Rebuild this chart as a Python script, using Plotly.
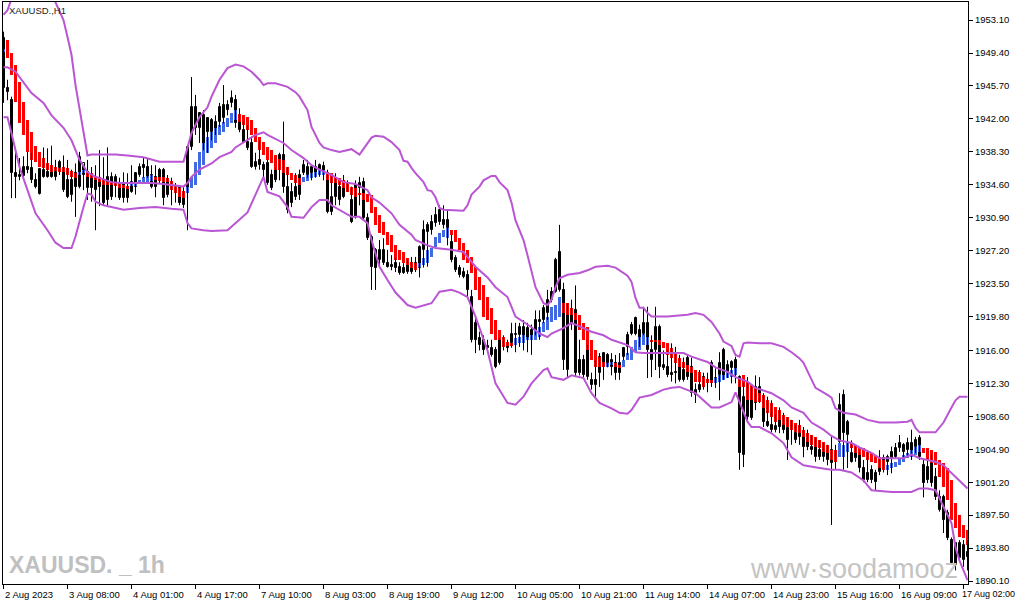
import plotly.graph_objects as go

# ---------------- regular candles (XAUUSD H1) ----------------
open_ = [
 1951.1,1945.5,1944.1,1935.9,1935.5,1935.6,1936.6,1936.5,1935.1,1933.6,
 1936.3,1936.0,1936.6,1936.0,1936.5,1936.5,1935.1,1935.1,1935.9,1934.4,
 1935.7,1936.0,1935.4,1935.1,1935.1,1934.8,1935.5,1935.5,1934.8,1934.8,
 1934.8,1934.4,1933.8,1934.4,1935.7,1936.8,1936.6,1935.7,1935.5,1935.1,
 1936.3,1935.1,1934.8,1933.7,1934.2,1933.7,1933.7,1938.8,1943.3,1941.0,
 1942.4,1942.1,1940.5,1941.7,1941.7,1942.1,1943.6,1943.8,1944.1,1942.4,
 1940.8,1939.4,1939.3,1936.6,1937.4,1936.8,1937.0,1935.7,1936.3,1936.8,
 1937.9,1934.4,1933.8,1934.4,1933.5,1935.9,1936.6,1935.9,1936.6,1936.0,
 1936.7,1935.1,1931.5,1934.9,1934.4,1934.6,1934.6,1932.9,1934.6,1934.2,
 1934.9,1930.9,1928.7,1927.3,1926.2,1925.8,1925.8,1925.6,1925.8,1925.4,
 1925.3,1925.6,1925.3,1925.8,1925.3,1927.3,1929.3,1930.4,1930.3,1930.4,
 1930.6,1930.6,1928.2,1926.4,1925.3,1924.2,1924.5,1922.0,1919.1,1917.4,
 1917.2,1916.5,1916.3,1916.0,1914.6,1917.2,1916.5,1916.8,1917.7,1917.7,
 1917.2,1918.5,1918.3,1917.9,1919.2,1919.4,1920.2,1922.6,1922.6,1927.1,
 1922.8,1913.8,1920.5,1920.5,1914.9,1914.9,1913.0,1912.7,1912.7,1913.5,
 1914.6,1915.5,1914.1,1914.6,1914.6,1915.3,1916.4,1917.9,1919.6,1917.4,
 1917.9,1919.1,1916.0,1916.0,1918.6,1914.0,1914.1,1913.5,1913.6,1914.1,
 1913.8,1915.2,1914.1,1911.0,1912.1,1913.0,1912.7,1912.3,1912.5,1913.2,
 1916.0,1913.6,1914.0,1913.6,1913.0,1904.3,1912.1,1910.4,1911.9,1910.4,
 1910.2,1908.0,1907.6,1907.1,1908.2,1907.6,1907.3,1907.9,1906.7,1907.1,
 1906.8,1905.9,1905.2,1905.2,1904.8,1904.0,1904.5,1904.8,1904.3,1905.7,
 1911.0,1906.5,1903.5,1904.8,1904.3,1902.8,1902.2,1902.6,1902.2,1902.3,
 1903.9,1903.5,1903.9,1904.0,1905.0,1905.4,1904.8,1905.6,1905.2,1906.2,
 1903.1,1902.9,1903.7,1901.8,1899.5,1899.5,1897.7,1894.7,1891.9,1892.7,
 1892.5,1893.4]
high = [
 1951.8,1946.4,1944.5,1938.3,1937.6,1937.8,1938.3,1938.2,1935.9,1936.5,
 1938.8,1938.7,1939.0,1937.4,1937.4,1937.9,1937.4,1936.3,1937.0,1938.3,
 1936.8,1937.4,1936.6,1936.8,1938.5,1937.7,1938.8,1936.0,1935.8,1935.4,
 1936.0,1935.9,1936.8,1936.0,1937.0,1937.7,1937.6,1936.8,1936.8,1936.5,
 1936.5,1935.7,1935.4,1934.8,1934.4,1934.4,1938.9,1946.7,1944.7,1942.7,
 1943.0,1942.2,1942.1,1942.4,1943.8,1945.8,1944.1,1945.2,1944.7,1943.2,
 1941.7,1941.3,1940.0,1938.2,1939.6,1937.2,1937.4,1936.3,1936.5,1938.2,
 1941.7,1936.6,1934.8,1935.9,1936.3,1937.4,1937.4,1936.8,1937.4,1937.0,
 1937.2,1936.3,1935.5,1935.9,1934.9,1935.7,1935.1,1934.4,1935.1,1935.5,
 1935.4,1931.4,1929.0,1927.5,1928.4,1928.6,1927.3,1926.7,1926.4,1925.9,
 1925.8,1926.2,1926.5,1926.5,1927.8,1930.6,1930.4,1931.2,1932.1,1932.3,
 1932.3,1931.8,1929.0,1926.7,1925.6,1925.3,1925.0,1922.8,1919.8,1918.1,
 1917.7,1917.2,1917.2,1916.4,1917.4,1917.7,1917.2,1919.1,1919.1,1919.1,
 1919.4,1919.1,1918.9,1920.5,1920.5,1921.1,1922.8,1923.1,1926.4,1930.1,
 1923.6,1921.3,1921.7,1923.3,1917.2,1915.5,1916.6,1913.5,1914.9,1915.7,
 1915.8,1915.7,1915.7,1915.5,1915.7,1916.4,1918.1,1919.2,1919.8,1918.9,
 1920.9,1920.9,1917.7,1920.9,1918.9,1916.0,1916.0,1916.8,1916.4,1915.5,
 1915.2,1915.5,1915.2,1912.3,1913.8,1913.5,1913.5,1914.9,1914.0,1915.8,
 1916.3,1914.9,1914.9,1915.3,1913.2,1912.3,1913.0,1912.1,1913.2,1913.0,
 1911.2,1910.8,1910.4,1908.8,1909.6,1909.0,1908.5,1908.2,1907.6,1908.2,
 1907.4,1907.1,1906.5,1906.2,1905.9,1905.6,1905.4,1906.3,1905.4,1911.2,
 1911.6,1908.2,1905.9,1905.4,1904.6,1903.7,1904.6,1903.1,1902.6,1904.8,
 1904.3,1904.3,1905.2,1905.6,1906.5,1905.6,1906.2,1907.1,1906.3,1906.5,
 1903.7,1903.9,1904.3,1902.8,1900.3,1899.8,1898.1,1895.0,1894.4,1894.7,
 1894.7,1894.7]
low = [
 1943.8,1944.1,1933.1,1933.1,1935.1,1935.4,1935.9,1934.8,1934.2,1933.5,
 1935.4,1935.4,1935.4,1935.1,1935.7,1933.8,1933.1,1932.7,1931.0,1934.2,
 1934.0,1932.9,1932.7,1929.5,1932.2,1932.3,1932.1,1932.9,1933.2,1932.9,
 1932.6,1932.6,1933.7,1933.5,1935.5,1935.4,1935.4,1934.2,1933.2,1934.8,
 1932.3,1933.2,1932.3,1932.6,1932.3,1932.0,1929.5,1938.5,1940.2,1939.3,
 1938.5,1938.2,1939.6,1940.2,1941.1,1941.5,1942.4,1943.3,1941.0,1940.5,
 1939.3,1938.5,1936.5,1936.3,1936.3,1935.4,1934.6,1934.0,1934.9,1935.1,
 1933.7,1931.4,1932.1,1932.9,1932.9,1935.7,1935.4,1935.1,1935.4,1935.5,
 1935.1,1931.4,1931.2,1932.3,1932.3,1933.1,1933.8,1930.3,1930.8,1932.3,
 1930.6,1928.4,1922.8,1922.8,1925.6,1925.6,1925.3,1925.0,1924.8,1924.5,
 1924.6,1924.6,1924.6,1924.8,1924.2,1925.3,1925.4,1929.0,1929.9,1930.1,
 1929.7,1927.8,1925.9,1924.8,1924.2,1924.1,1922.0,1916.9,1915.7,1916.0,
 1915.5,1915.8,1915.3,1914.0,1914.4,1916.0,1915.8,1916.3,1915.8,1916.4,
 1916.0,1915.8,1915.5,1917.7,1917.2,1919.1,1919.4,1921.4,1922.5,1922.6,
 1913.8,1913.0,1918.3,1913.0,1913.2,1912.9,1912.7,1911.6,1910.8,1911.9,
 1912.7,1914.1,1913.2,1912.7,1912.7,1914.9,1915.5,1917.7,1917.7,1916.4,
 1917.7,1912.9,1913.0,1913.8,1912.9,1913.8,1913.0,1912.5,1912.3,1912.5,
 1912.5,1912.7,1910.8,1910.1,1911.3,1911.6,1911.3,1911.9,1911.8,1910.4,
 1912.7,1912.9,1912.3,1912.3,1902.6,1902.9,1908.2,1908.2,1909.3,1910.1,
 1907.4,1907.4,1906.8,1906.8,1906.7,1906.7,1903.7,1905.4,1905.6,1905.4,
 1904.0,1904.8,1904.3,1903.5,1903.7,1903.5,1903.1,1896.4,1902.6,1905.6,
 1902.6,1902.8,1903.4,1903.5,1902.3,1901.2,1901.2,1901.1,1900.3,1902.0,
 1902.3,1902.0,1902.2,1903.9,1904.6,1904.0,1904.0,1903.7,1904.5,1903.7,
 1899.5,1901.1,1900.7,1899.2,1897.9,1895.5,1894.7,1891.9,1891.3,1892.5,
 1891.7,1891.3]
close = [
 1945.5,1945.0,1935.9,1935.5,1935.7,1936.6,1936.3,1935.1,1934.4,1936.4,
 1935.5,1935.5,1935.5,1935.5,1937.2,1934.0,1933.2,1933.5,1934.4,1937.7,
 1937.0,1934.2,1934.2,1934.0,1934.4,1932.6,1932.9,1933.2,1935.5,1933.1,
 1933.1,1933.1,1934.9,1935.9,1936.6,1936.5,1935.5,1934.4,1934.4,1936.3,
 1933.1,1933.5,1934.0,1934.4,1932.6,1932.3,1938.8,1943.3,1941.0,1942.7,
 1939.1,1940.5,1941.9,1940.8,1943.3,1943.6,1943.0,1944.3,1941.5,1940.8,
 1939.4,1938.7,1936.6,1937.2,1936.8,1936.3,1934.8,1934.2,1935.1,1937.9,
 1934.4,1931.8,1932.6,1933.2,1935.7,1936.8,1935.7,1936.6,1935.9,1936.8,
 1935.7,1931.5,1933.2,1933.2,1932.9,1933.2,1934.0,1930.4,1931.0,1934.8,
 1930.9,1928.6,1925.4,1925.3,1927.3,1927.3,1925.4,1925.4,1925.3,1924.7,
 1924.7,1924.8,1924.8,1925.0,1927.6,1929.5,1930.1,1929.5,1931.2,1931.8,
 1930.1,1929.7,1926.2,1925.0,1924.5,1924.8,1922.8,1917.2,1917.2,1916.6,
 1916.0,1916.3,1915.5,1914.1,1917.2,1916.4,1916.3,1917.9,1917.9,1918.6,
 1918.6,1917.2,1917.2,1919.4,1919.4,1920.8,1921.7,1921.7,1926.2,1922.8,
 1914.9,1920.5,1919.1,1913.5,1913.5,1913.2,1916.0,1912.1,1912.1,1915.3,
 1915.7,1914.6,1914.9,1913.5,1913.5,1916.3,1917.7,1918.9,1917.9,1918.3,
 1919.1,1916.0,1914.9,1918.6,1914.1,1914.4,1913.2,1913.2,1913.5,1912.7,
 1912.7,1913.0,1911.2,1911.6,1911.6,1911.9,1912.6,1914.6,1912.9,1914.6,
 1913.0,1914.4,1914.7,1914.9,1904.5,1910.8,1908.5,1908.4,1910.1,1911.9,
 1908.0,1907.5,1907.1,1907.5,1907.4,1907.1,1905.9,1907.3,1905.9,1906.3,
 1905.2,1905.2,1904.8,1904.0,1904.0,1904.6,1903.7,1903.4,1903.5,1909.9,
 1906.7,1908.0,1904.5,1903.9,1902.8,1901.4,1901.4,1901.4,1901.2,1903.5,
 1902.6,1904.0,1904.6,1905.0,1905.6,1904.6,1905.6,1904.6,1905.9,1904.0,
 1901.1,1901.4,1901.1,1899.5,1898.1,1897.0,1894.9,1892.1,1894.4,1894.4,
 1894.2,1892.8]

# ---------------- Heiken Ashi (smoothed) bodies ----------------
ha_open = [
 1949.5,1950.9,1949.4,1948.1,1946.1,1943.9,1941.9,1940.5,1939.0,1938.3,
 1937.6,1937.0,1936.8,1936.6,1936.5,1936.6,1936.5,1936.2,1935.9,1935.7,
 1935.9,1936.0,1935.9,1935.6,1935.5,1935.1,1934.9,1934.9,1934.8,1934.7,
 1934.6,1934.5,1934.5,1934.5,1934.7,1934.8,1934.9,1935.0,1935.5,1935.5,
 1935.5,1935.4,1935.0,1934.6,1934.2,1933.9,1933.7,1934.2,1934.6,1935.7,
 1936.8,1938.2,1938.7,1939.3,1940.2,1940.5,1941.1,1941.5,1941.9,1942.5,
 1942.4,1942.2,1941.9,1941.0,1940.0,1939.4,1938.8,1938.5,1937.9,1937.5,
 1937.4,1936.6,1935.9,1935.7,1935.4,1934.9,1935.0,1935.4,1935.5,1935.7,
 1935.7,1936.0,1935.9,1935.5,1935.4,1935.1,1934.9,1934.4,1934.2,1933.7,
 1933.7,1933.6,1933.5,1932.1,1931.2,1930.4,1929.3,1929.0,1927.8,1927.3,
 1927.0,1926.4,1925.9,1925.8,1925.4,1925.6,1925.8,1926.5,1927.6,1928.1,
 1928.7,1928.6,1929.5,1929.5,1928.6,1928.1,1927.3,1926.5,1925.4,1924.2,
 1923.3,1922.0,1920.8,1919.4,1918.3,1917.5,1916.9,1916.8,1916.6,1916.8,
 1916.8,1917.2,1917.2,1917.2,1917.5,1918.1,1918.3,1919.2,1919.4,1919.8,
 1921.3,1921.3,1920.8,1920.2,1920.0,1919.1,1918.6,1917.2,1916.0,1915.3,
 1914.7,1914.1,1914.4,1914.6,1914.4,1914.1,1914.9,1914.9,1915.8,1916.0,
 1916.6,1916.6,1917.2,1917.2,1917.2,1916.9,1916.8,1916.3,1915.7,1915.1,
 1914.7,1914.4,1914.1,1913.8,1913.6,1913.0,1912.8,1912.7,1912.3,1912.5,
 1912.7,1912.9,1913.0,1913.2,1912.9,1913.2,1912.5,1912.1,1911.8,1911.2,
 1911.0,1910.4,1910.1,1909.6,1909.3,1908.8,1908.5,1908.2,1907.9,1907.6,
 1907.1,1906.7,1906.5,1906.3,1905.9,1905.7,1905.4,1904.8,1904.8,1904.0,
 1904.0,1904.6,1905.6,1905.4,1905.2,1905.0,1904.6,1904.5,1904.3,1904.0,
 1903.7,1902.6,1902.8,1902.9,1903.1,1903.5,1903.9,1904.0,1904.3,1904.6,
 1905.0,1905.0,1904.8,1904.6,1903.7,1903.4,1902.8,1901.4,1898.9,1897.5,
 1896.4,1895.8]
ha_close = [
 1949.9,1948.8,1946.9,1943.9,1941.5,1940.2,1938.3,1937.4,1937.2,1936.6,
 1936.5,1936.3,1936.0,1936.2,1936.0,1936.0,1935.7,1935.5,1935.4,1936.0,
 1936.3,1935.5,1935.4,1935.1,1934.9,1934.6,1934.6,1934.6,1934.5,1934.2,
 1934.2,1934.1,1934.8,1934.9,1935.1,1935.5,1935.6,1935.7,1935.1,1935.0,
 1934.9,1934.9,1934.0,1933.7,1933.2,1933.1,1934.4,1935.5,1937.2,1938.3,
 1939.3,1940.0,1940.5,1941.0,1941.3,1941.7,1942.1,1942.7,1943.0,1941.7,
 1941.3,1940.8,1940.2,1939.4,1938.5,1937.9,1937.4,1937.0,1936.3,1936.3,
 1935.9,1935.7,1935.1,1934.8,1934.6,1935.5,1935.7,1935.9,1936.0,1936.3,
 1936.3,1935.1,1934.8,1934.8,1934.6,1934.2,1933.8,1933.5,1933.2,1933.5,
 1932.9,1932.7,1931.4,1930.1,1929.2,1929.0,1927.8,1927.1,1926.2,1926.2,
 1925.8,1925.6,1925.3,1925.0,1925.8,1926.4,1927.3,1927.5,1928.7,1929.2,
 1929.5,1929.7,1929.0,1928.2,1927.3,1926.2,1925.8,1924.7,1922.8,1921.7,
 1919.8,1919.4,1917.9,1917.2,1917.2,1916.4,1916.5,1916.6,1917.4,1917.5,
 1917.7,1917.5,1917.7,1918.3,1918.6,1919.2,1919.8,1920.9,1921.1,1922.0,
 1920.2,1920.0,1920.0,1919.4,1918.3,1917.2,1916.0,1914.9,1914.1,1914.1,
 1914.1,1914.6,1914.7,1914.1,1914.0,1914.9,1915.7,1916.4,1917.2,1917.5,
 1917.9,1917.5,1916.9,1916.9,1916.6,1916.3,1915.5,1915.1,1914.6,1914.1,
 1914.0,1913.6,1913.5,1912.5,1912.5,1911.9,1912.3,1912.3,1912.9,1913.2,
 1913.2,1913.6,1913.8,1914.0,1911.9,1911.9,1910.4,1910.4,1910.2,1910.2,
 1909.5,1909.0,1908.5,1908.0,1908.2,1907.6,1907.4,1907.1,1906.8,1906.7,
 1906.3,1905.7,1905.4,1905.2,1905.0,1904.6,1904.5,1903.7,1903.5,1905.6,
 1905.4,1905.7,1905.0,1904.5,1904.3,1904.0,1903.7,1903.5,1903.4,1902.8,
 1902.6,1903.1,1903.4,1903.5,1903.9,1904.3,1904.5,1904.8,1905.2,1905.4,
 1904.5,1903.7,1903.4,1903.1,1901.8,1900.7,1899.2,1897.0,1896.1,1895.0,
 1894.9,1894.2]

# ---------------- Bollinger bands (vertices: bar index, price) ----------------
upper_idx = [0,1,2,5,9,12,13,15,16,17, 18,19,20,21,22,28,31,35,39,45,
             46,47,49,51,52,54,56,58,60,62, 64,65,66,68,71,73,74,76,77,79,
             80,82,84,86,87,89,91,92,93,95, 97,99,100,101,102,103,105,106,107,108,
             109,110,115,116,117,119,120,122,123,124, 126,127,128,130,131,132,133,134,135,136,
             137,138,139,141,144,146,148,151,153,156, 157,158,159,160,161,162,166,171,173,175,
             177,179,180,182,183,184,185,186,189,192, 195,197,199,200,202,203,206,207,208,210,
             213,216,219,223,226,227,228,229,233,235, 237,238,239,241]
upper_val = [1953.7,1954.2,1955.5,1958.0,1958.6,1956.5,1955.1,1953.1,1951.2,1949.2,
             1945.8,1943.0,1940.4,1937.9,1938.0,1938.0,1937.9,1937.7,1937.2,1937.2,
             1938.8,1940.4,1942.2,1943.3,1944.5,1946.4,1947.7,1948.1,1947.9,1947.3,
             1946.4,1945.8,1946.0,1946.0,1945.6,1945.0,1944.5,1943.0,1941.1,1939.3,
             1938.8,1938.5,1938.3,1938.5,1938.6,1938.0,1939.3,1939.9,1940.1,1940.0,
             1939.4,1938.5,1937.3,1937.2,1936.5,1935.9,1934.9,1934.0,1933.9,1933.2,
             1932.0,1931.8,1931.7,1932.3,1933.5,1934.4,1935.1,1935.6,1935.6,1934.9,
             1934.0,1932.6,1930.6,1928.4,1926.7,1925.0,1923.1,1922.2,1921.3,1921.1,
             1921.7,1923.1,1924.1,1924.5,1924.7,1925.0,1925.4,1925.5,1925.3,1924.4,
             1923.7,1921.9,1920.8,1920.8,1920.2,1919.8,1919.8,1920.0,1920.2,1920.0,
             1919.2,1917.9,1917.0,1916.5,1915.5,1915.3,1916.8,1916.9,1916.8,1916.8,
             1916.4,1915.8,1915.1,1914.6,1912.7,1911.8,1911.0,1910.7,1909.5,1909.0,
             1908.8,1908.2,1907.9,1907.9,1908.0,1908.2,1907.3,1906.8,1906.8,1907.9,
             1909.6,1910.4,1910.8,1910.8]
mid_idx = [0,1,3,4,5,7,10,12,15,17, 19,21,23,27,29,32,37,40,42,45,
           46,47,49,52,54,57,58,61,63,65, 66,70,72,75,77,79,82,85,88,91,
           92,94,97,99,102,103,106,108,112,115, 116,118,121,123,126,128,132,134,136,137,
           140,142,144,147,150,152,156,158,160,164, 167,170,172,176,178,181,183,186,188,192,
           195,197,200,202,205,207,209,212,214,217, 219,222,225,227,229,231,233,235,237,239,
           241]
mid_val = [1947.8,1947.8,1947.3,1946.7,1946.0,1944.9,1943.8,1942.4,1941.0,1939.6,
           1937.4,1936.0,1935.5,1934.9,1934.8,1934.8,1934.8,1934.7,1934.6,1934.4,
           1934.8,1935.5,1936.3,1937.0,1937.7,1938.3,1938.8,1939.6,1940.2,1940.5,
           1940.2,1939.3,1938.5,1937.6,1936.8,1936.3,1935.7,1934.9,1934.7,1934.0,
           1933.2,1932.6,1931.4,1930.1,1929.0,1928.4,1927.8,1927.5,1927.3,1927.05,
           1926.5,1925.4,1924.2,1923.1,1922.0,1919.8,1918.6,1917.9,1917.5,1917.9,
           1918.5,1919.1,1918.7,1918.1,1917.7,1917.2,1916.6,1915.8,1915.7,1915.7,
           1915.7,1915.7,1915.3,1914.7,1914.1,1913.6,1913.0,1912.5,1911.8,1911.2,
           1910.4,1909.6,1909.0,1907.9,1907.1,1906.4,1905.9,1905.6,1905.1,1904.5,
           1903.9,1903.9,1903.9,1904.3,1903.9,1903.7,1903.5,1903.1,1902.2,1901.4,
           1900.5]
lower_idx = [0,1,2,4,6,8,11,13,15,17, 18,19,20,21,22,23,25,27,30,34,
             38,42,45,46,47,50,52,56,58,61, 63,65,66,69,71,72,75,77,79,81,
             82,87,89,91,92,94,96,98,101,103, 107,109,112,114,116,118,121,123,126,128,
             130,132,135,136,137,140,142,145,147,149, 152,154,156,157,159,162,165,167,169,173,
             177,179,182,183,184,186,187,189,192,195, 197,200,204,207,209,212,215,217,222,227,
             229,231,233,235,237,238,239,240,241]
lower_val = [1942.2,1942.2,1940.4,1936.6,1934.0,1931.4,1929.5,1928.1,1927.5,1927.5,
             1928.8,1930.6,1932.1,1933.6,1933.5,1932.7,1932.3,1932.1,1931.8,1932.0,
             1932.1,1931.9,1931.8,1930.3,1929.7,1929.5,1929.4,1929.5,1930.3,1931.5,
             1933.5,1935.5,1933.8,1933.3,1932.1,1931.0,1930.9,1932.1,1932.9,1932.9,
             1932.3,1931.0,1931.0,1930.3,1928.4,1925.4,1923.9,1922.5,1921.1,1920.8,
             1921.3,1922.6,1922.8,1922.5,1922.0,1919.8,1916.0,1912.3,1910.1,1909.9,
             1910.8,1912.3,1913.8,1914.0,1913.0,1912.7,1913.2,1912.9,1911.2,1910.1,
             1909.5,1909.0,1908.9,1909.3,1910.7,1911.0,1911.6,1911.8,1911.9,1911.2,
             1909.6,1909.6,1910.2,1911.3,1910.2,1908.0,1907.4,1907.4,1906.7,1905.6,
             1904.0,1903.1,1902.8,1902.6,1902.6,1902.3,1901.4,1900.3,1900.1,1900.1,
             1900.5,1900.5,1900.3,1898.4,1896.6,1893.9,1892.4,1891.3,1890.2]

# ---------------- axis labels ----------------
y_ticks = [1953.10, 1949.40, 1945.70, 1942.00, 1938.30, 1934.60, 1930.90, 1927.20, 1923.50,
           1919.80, 1916.00, 1912.30, 1908.60, 1904.90, 1901.20, 1897.50, 1893.80, 1890.10]
x_tick_idx = [0, 16, 32, 48, 64, 80, 96, 112, 128, 144, 160, 176, 192, 208, 224, 240]
x_tick_labels = ["2 Aug 2023", "3 Aug 08:00", "4 Aug 01:00", "4 Aug 17:00", "7 Aug 10:00",
                 "8 Aug 03:00", "8 Aug 19:00", "9 Aug 12:00", "10 Aug 05:00", "10 Aug 21:00",
                 "11 Aug 14:00", "14 Aug 07:00", "14 Aug 23:00", "15 Aug 16:00", "16 Aug 09:00",
                 "17 Aug 02:00"]

BAND = "#BA55D3"
HA_UP = "#4169E1"
HA_DN = "#FF0000"
FONT = "Liberation Sans, Arial, sans-serif"

n = len(close)
idx = list(range(n))

fig = go.Figure()

# candle wicks
wx, wy = [], []
for i in idx:
    wx += [i, i, None]
    wy += [low[i], high[i], None]
fig.add_trace(go.Scatter(x=wx, y=wy, mode="lines", line=dict(color="black", width=1),
                         hoverinfo="skip"))

# candle bodies
body_base = [min(o, c) for o, c in zip(open_, close)]
body_h = [max(abs(c - o), 0.05) for o, c in zip(open_, close)]
body_col = ["white" if c > o else "black" for o, c in zip(open_, close)]
fig.add_trace(go.Bar(x=idx, y=body_h, base=body_base, width=0.5,
                     marker=dict(color=body_col, line=dict(color="black", width=1)),
                     hoverinfo="skip"))

# Heiken Ashi bodies
ha_base = [min(o, c) for o, c in zip(ha_open, ha_close)]
ha_h = [max(abs(c - o), 0.08) for o, c in zip(ha_open, ha_close)]
ha_col = [HA_UP if c > o else HA_DN for o, c in zip(ha_open, ha_close)]
fig.add_trace(go.Bar(x=idx, y=ha_h, base=ha_base, width=0.75,
                     marker=dict(color=ha_col, line=dict(width=0)), hoverinfo="skip"))

# Bollinger bands
for bx, by in [(upper_idx, upper_val), (mid_idx, mid_val), (lower_idx, lower_val)]:
    fig.add_trace(go.Scatter(x=bx, y=by, mode="lines", line=dict(color=BAND, width=2),
                             hoverinfo="skip"))

annotations = []
for k, (ti, tl) in enumerate(zip(x_tick_idx, x_tick_labels)):
    last = k == len(x_tick_idx) - 1
    annotations.append(dict(x=ti, y=0, xref="x", yref="paper", text=tl, showarrow=False,
                            xanchor="left", yanchor="top", yshift=-3,
                            xshift=-4 if last else -1,
                            font=dict(family=FONT, size=9 if last else 9.5, color="black")))
annotations.append(dict(x=0.004, y=1, xref="paper", yref="paper", text="XAUUSD.,H1",
                        showarrow=False, xanchor="left", yanchor="top", yshift=-1,
                        font=dict(family=FONT, size=9.5, color="#202020")))
annotations.append(dict(x=0.004, y=0.033, xref="paper", yref="paper", text="XAUUSD. _ 1h",
                        showarrow=False, xanchor="left", yanchor="middle",
                        font=dict(family=FONT, size=23, color="#C0C0C0", weight="bold")))
annotations.append(dict(x=0.992, y=0.025, xref="paper", yref="paper", text="www\u00b7soodamooz",
                        showarrow=False, xanchor="right", yanchor="middle",
                        font=dict(family=FONT, size=27, color="#C4C4C4")))

fig.update_layout(
    width=1015, height=605,
    margin=dict(l=3, r=47, t=2, b=21),
    paper_bgcolor="white", plot_bgcolor="white",
    showlegend=False, barmode="overlay", bargap=0,
    annotations=annotations,
    xaxis=dict(range=[-0.125, 241.125], showgrid=False, zeroline=False,
               showline=True, mirror=True, linecolor="black", linewidth=1,
               ticks="outside", ticklen=4, tickcolor="black", tickwidth=1,
               tickvals=x_tick_idx, showticklabels=False, automargin=False),
    yaxis=dict(range=[1889.77, 1955.13], side="right", showgrid=False, zeroline=False,
               showline=True, mirror=True, linecolor="black", linewidth=1,
               ticks="outside", ticklen=4, tickcolor="black", tickwidth=1,
               tickvals=y_ticks, ticktext=["%.2f" % v for v in y_ticks],
               tickfont=dict(family=FONT, size=9.5, color="black"), automargin=False),
)

fig.write_html("out.html", config={"displayModeBar": False},
               post_script="document.body.style.margin='0';document.body.style.overflow='hidden';")
